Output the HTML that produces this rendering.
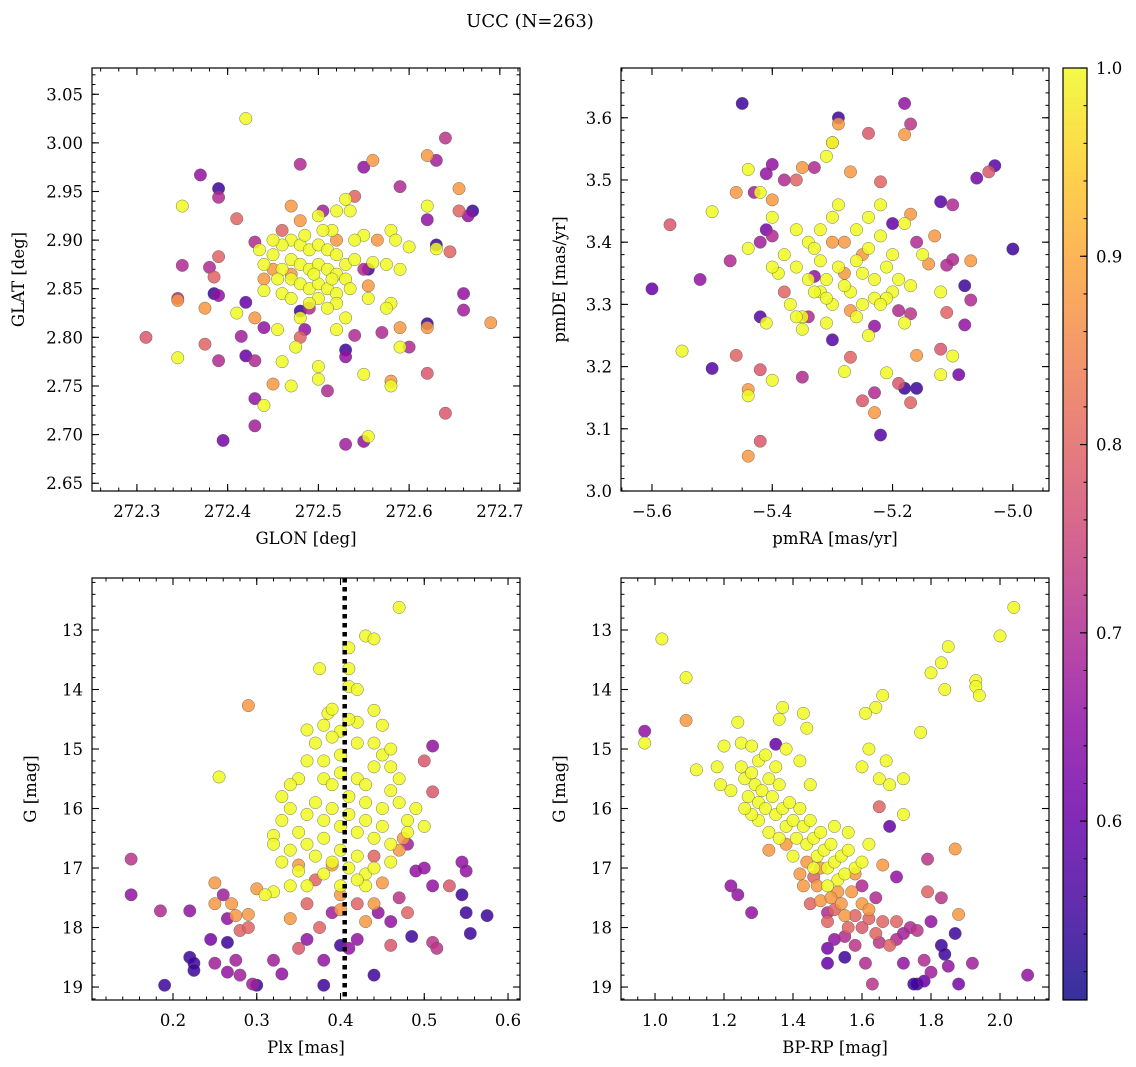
<!DOCTYPE html>
<html><head><meta charset="utf-8"><style>
html,body{margin:0;padding:0;background:#fff;}
svg{display:block;font-family:"DejaVu Serif","Liberation Serif",serif;}
</style></head><body>
<svg id="fig" width="1136" height="1067" viewBox="0 0 1136 1067" xmlns="http://www.w3.org/2000/svg">
<text x="530" y="27" font-size="18" text-anchor="middle">UCC (N=263)</text>
</svg>
<script>
// ---- Panel 1: GLON vs GLAT ----
const p1x=[272.42,272.37,272.39,272.35,272.39,272.48,272.55,272.59,272.54,272.56,272.62,272.64,272.63,272.655,272.655,272.67,272.665,272.62,272.62,272.63,272.63,272.645,272.66,272.66,272.69,272.62,272.62,272.62,272.64,272.6,272.59,272.58,272.58,272.55,272.555,272.55,272.53,272.51,272.5,272.5,272.47,272.45,272.44,272.43,272.43,272.395,272.43,272.42,272.39,272.375,272.345,272.31,272.345,272.345,272.35,272.38,272.385,272.39,272.385,272.39,272.375,272.41,272.42,272.415,272.41,272.43,272.435,272.44,272.44,272.43,272.44,272.46,272.455,272.46,272.475,272.48,272.48,272.485,272.49,272.505,272.52,272.53,272.535,272.515,272.55,272.58,272.585,272.565,272.6,272.56,272.555,272.55,272.575,272.59,272.58,272.575,272.555,272.555,272.53,272.52,272.54,272.53,272.53,272.59,272.57,272.47,272.48,272.46,
272.47,272.48,272.49,272.50,272.51,272.52,272.47,272.48,272.49,272.50,272.51,272.52,272.53,272.54,272.46,272.47,272.48,272.49,272.50,272.51,272.52,272.53,272.45,272.46,272.47,272.50,272.52,272.485,272.505,272.495,272.515,272.535,272.44,272.455,272.54,272.5,272.49,272.48,272.51,272.45,272.47,272.52,272.45];
const p1y=[3.025,2.967,2.953,2.935,2.944,2.978,2.975,2.955,2.945,2.982,2.987,3.005,2.982,2.953,2.930,2.930,2.925,2.921,2.935,2.895,2.891,2.888,2.845,2.828,2.815,2.814,2.810,2.763,2.722,2.79,2.79,2.755,2.75,2.762,2.698,2.693,2.69,2.745,2.77,2.757,2.75,2.752,2.73,2.737,2.709,2.694,2.776,2.781,2.776,2.793,2.779,2.80,2.84,2.838,2.874,2.872,2.862,2.883,2.845,2.843,2.83,2.825,2.836,2.801,2.922,2.898,2.89,2.86,2.848,2.82,2.81,2.845,2.808,2.775,2.79,2.80,2.827,2.808,2.83,2.93,2.93,2.942,2.93,2.91,2.905,2.91,2.9,2.9,2.893,2.877,2.87,2.87,2.875,2.87,2.835,2.83,2.853,2.84,2.82,2.808,2.802,2.787,2.78,2.81,2.805,2.935,2.92,2.91,
2.90,2.895,2.89,2.895,2.89,2.885,2.88,2.875,2.87,2.875,2.87,2.865,2.875,2.88,2.87,2.86,2.855,2.85,2.855,2.85,2.845,2.86,2.885,2.895,2.84,2.84,2.835,2.905,2.91,2.865,2.86,2.85,2.875,2.86,2.9,2.925,2.835,2.82,2.83,2.9,2.865,2.9,2.87];
const p1c=[1,0.66,0.55,1,0.7,0.7,0.66,0.7,0.8,0.88,0.88,0.72,0.68,0.88,0.8,0.55,0.66,0.66,1,0.55,1,0.8,0.66,0.68,0.88,0.55,0.88,0.78,0.78,0.7,1,0.88,1,1,1,0.66,0.68,0.7,1,1,1,0.88,1,0.66,0.68,0.62,0.7,0.6,0.7,0.8,1,0.78,0.7,0.88,0.7,0.7,0.8,0.8,0.55,0.66,0.88,1,0.6,0.68,0.8,0.7,1,0.88,1,0.88,0.66,1,1,1,1,0.8,0.55,0.66,0.7,0.68,1,1,1,1,1,1,1,0.88,1,1,0.55,0.7,1,1,1,1,0.88,1,1,1,0.7,0.55,0.66,0.88,0.7,0.88,0.88,0.8,
1,1,1,1,1,1,1,1,1,1,1,1,1,1,1,1,1,1,1,1,1,1,1,1,1,1,1,1,1,1,1,1,1,1,1,1,1,1,1,1,0.88,0.88,0.88];

// ---- Panel 2: pmRA vs pmDE ----
const p2x=[-5.45,-5.29,-5.18,-5.17,-5.03,-5.04,-5.06,-5.0,-5.07,-5.08,-5.07,-5.08,-5.1,-5.09,-5.12,-5.12,-5.11,-5.12,-5.1,-5.12,-5.1,-5.11,-5.17,-5.18,-5.2,-5.18,-5.27,-5.24,-5.22,-5.3,-5.31,-5.3,-5.29,-5.35,-5.33,-5.36,-5.38,-5.4,-5.41,-5.43,-5.42,-5.44,-5.46,-5.44,-5.41,-5.4,-5.42,-5.4,-5.4,-5.47,-5.5,-5.57,-5.6,-5.52,-5.55,-5.5,-5.46,-5.42,-5.41,-5.42,-5.4,-5.44,-5.44,-5.42,-5.44,-5.35,-5.3,-5.28,-5.27,-5.25,-5.23,-5.22,-5.23,-5.21,-5.19,-5.18,-5.16,-5.17,-5.16,-5.17,-5.18,-5.19,-5.14,-5.13,-5.16,-5.33,-5.34,-5.23,-5.24,
-5.38,-5.36,-5.34,-5.32,-5.3,-5.28,-5.26,-5.24,-5.22,-5.2,-5.37,-5.35,-5.33,-5.31,-5.29,-5.27,-5.25,-5.23,-5.21,-5.19,-5.36,-5.34,-5.32,-5.3,-5.28,-5.26,-5.24,-5.22,-5.2,-5.39,-5.35,-5.31,-5.27,-5.23,-5.33,-5.29,-5.25,-5.21,-5.3,-5.26,-5.17,-5.15,-5.4,-5.38,-5.32,-5.28,-5.25,-5.22,-5.36,-5.31];
const p2y=[3.623,3.6,3.623,3.59,3.523,3.513,3.503,3.389,3.37,3.33,3.307,3.267,3.217,3.187,3.187,3.228,3.287,3.32,3.372,3.465,3.46,3.363,3.445,3.43,3.43,3.573,3.513,3.575,3.497,3.56,3.538,3.56,3.59,3.52,3.52,3.5,3.5,3.525,3.51,3.48,3.48,3.517,3.48,3.39,3.42,3.41,3.4,3.44,3.468,3.37,3.449,3.428,3.325,3.34,3.225,3.197,3.218,3.28,3.27,3.195,3.178,3.163,3.153,3.08,3.056,3.183,3.243,3.192,3.215,3.145,3.158,3.09,3.126,3.19,3.173,3.165,3.165,3.142,3.218,3.285,3.27,3.29,3.365,3.41,3.4,3.345,3.28,3.265,3.25,
3.38,3.36,3.34,3.32,3.3,3.35,3.37,3.39,3.41,3.38,3.3,3.28,3.32,3.34,3.36,3.32,3.3,3.34,3.36,3.34,3.42,3.4,3.42,3.44,3.4,3.42,3.44,3.46,3.32,3.35,3.26,3.27,3.29,3.31,3.39,3.46,3.35,3.31,3.4,3.28,3.33,3.38,3.36,3.32,3.37,3.33,3.38,3.3,3.28,3.31];
const p2c=[0.55,0.55,0.66,0.72,0.58,0.78,0.62,0.55,0.88,0.55,0.7,0.66,1,0.62,1,0.78,0.8,1,0.7,0.58,0.7,0.7,0.88,1,0.6,0.88,0.88,0.78,0.8,0.88,1,1,0.88,0.88,0.7,0.8,0.7,0.66,0.66,0.68,1,1,0.88,1,0.62,0.7,0.68,1,0.88,0.7,1,0.78,0.6,0.66,1,0.58,0.8,0.58,1,0.78,1,0.88,1,0.78,0.88,0.7,0.58,1,0.8,0.78,0.7,0.58,0.88,1,0.78,0.55,0.55,0.8,0.88,0.72,1,0.7,0.88,0.88,0.7,0.66,0.7,0.66,1,
1,1,1,1,1,0.88,1,1,1,1,1,1,1,1,1,1,1,1,1,1,1,1,1,1,0.88,1,1,1,1,1,1,1,0.88,1,1,1,1,1,0.88,1,1,1,1,0.8,1,1,0.88,1,1,1];

// ---- Panel 3: Plx vs G ----
const p3x=[0.47,0.43,0.44,0.41,0.41,0.375,0.41,0.42,0.29,0.255,0.36,0.385,0.39,0.44,0.45,0.42,0.4,0.45,0.46,0.38,0.36,0.33,0.34,0.32,0.32,0.33,0.5,0.51,0.51,0.35,0.34,0.3,0.32,0.31,0.25,0.25,0.27,0.275,0.29,0.28,0.29,0.15,0.15,0.185,0.22,0.26,0.265,0.245,0.25,0.265,0.275,0.28,0.265,0.22,0.225,0.225,0.19,0.295,0.3,0.32,0.33,0.35,0.36,0.375,0.38,0.38,0.39,0.4,0.41,0.42,0.44,0.445,0.46,0.46,0.485,0.48,0.47,0.51,0.51,0.515,0.53,0.545,0.55,0.55,0.555,0.575,0.545,0.5,0.49,0.48,0.47,0.46,0.475,0.44,0.45,0.44,0.43,0.42,0.43,0.36,0.34,0.37,0.4,0.39,0.35,0.4,
0.38,0.39,0.4,0.41,0.42,0.43,0.44,0.37,0.36,0.38,0.39,0.4,0.41,0.42,0.43,0.44,0.45,0.46,0.47,0.48,0.49,0.35,0.36,0.37,0.38,0.39,0.4,0.41,0.42,0.43,0.44,0.42,0.4,0.39,0.37,0.35,0.34,0.46,0.47,0.45,0.33,0.34,0.38,0.4,0.42,0.44,0.36,0.46,0.48,0.5,0.38,0.41,0.43];
const p3y=[12.62,13.1,13.15,13.3,13.65,13.65,13.95,14.0,14.27,15.47,14.68,14.4,14.33,14.35,14.6,14.55,14.7,15.1,15.0,15.2,15.2,15.8,16.0,16.45,16.6,16.9,15.2,14.95,15.72,17.05,17.3,17.35,17.4,17.45,17.25,17.6,17.6,17.8,17.78,18.05,18.0,16.85,17.45,17.72,17.72,17.45,17.85,18.2,18.6,18.25,18.55,18.8,18.75,18.5,18.6,18.72,18.97,18.95,18.97,18.55,18.78,18.35,18.2,18.0,18.55,18.97,17.75,18.3,18.35,18.2,18.8,17.75,17.9,18.3,18.15,17.75,17.5,17.3,18.25,18.35,17.3,16.9,17.05,17.75,18.1,17.8,17.45,17.0,17.05,16.6,16.7,16.6,16.5,16.8,17.25,17.6,17.3,17.6,17.9,17.6,17.85,17.2,17.45,16.95,16.95,17.7,
15.5,15.6,15.4,15.8,15.5,15.9,15.3,15.9,16.1,16.2,16.0,16.3,16.1,16.4,16.2,16.5,16.0,15.7,15.9,16.2,16.0,16.4,16.6,16.8,16.5,16.9,16.7,17.0,16.8,17.1,14.9,14.9,15.1,14.8,14.9,15.5,15.6,15.3,15.5,16.3,16.2,16.7,17.1,17.3,17.2,17.0,17.3,16.9,16.4,16.3,14.6,14.5,15.6];
const p3c=[1,1,1,1,1,1,1,1,0.88,1,1,1,1,1,1,1,1,1,1,1,1,1,1,1,1,1,0.78,0.66,0.78,1,1,0.88,1,1,0.88,0.88,0.88,0.88,0.88,0.8,0.8,0.72,0.66,0.7,0.66,0.68,0.66,0.62,0.68,0.55,0.68,0.68,0.66,0.55,0.55,0.55,0.55,0.68,0.55,0.68,0.66,0.78,0.66,0.8,0.66,0.55,0.68,0.55,0.66,0.66,0.55,0.66,0.66,0.78,0.55,0.8,0.72,0.66,0.72,0.72,0.78,0.66,0.66,0.55,0.55,0.55,0.55,0.66,0.66,0.68,0.88,1,0.88,0.8,0.88,0.88,1,0.8,0.88,0.8,0.88,0.8,0.88,0.88,0.88,0.88,
1,1,1,1,1,1,1,1,1,1,1,1,1,1,1,1,1,1,1,1,1,1,1,1,1,1,1,1,1,1,1,1,1,1,1,1,1,1,1,1,1,1,1,1,1,1,1,1,1,1,1,1,1];

// ---- Panel 4: BP-RP vs G ----
const p4x=[0.97,0.97,1.02,1.09,1.09,1.12,1.18,1.19,1.2,1.24,1.22,1.24,1.28,2.04,2.0,1.85,1.83,1.8,1.84,1.93,1.93,1.94,1.77,1.66,1.64,1.61,1.43,1.44,1.36,1.37,1.35,1.6,1.62,1.67,1.65,1.68,1.72,1.72,1.65,1.68,1.87,2.08,1.92,1.88,1.85,1.87,1.83,1.84,1.83,1.8,1.8,1.78,1.76,1.75,1.78,1.72,1.88,1.79,1.79,1.7,1.64,1.6,1.63,1.5,1.5,1.52,1.55,1.55,1.58,1.61,1.6,1.65,1.68,1.7,1.72,1.74,1.76,1.7,1.66,1.62,1.58,1.55,1.52,1.5,1.48,1.53,1.45,1.43,1.46,1.48,
1.25,1.26,1.27,1.28,1.29,1.3,1.3,1.31,1.32,1.33,1.34,1.35,1.36,1.37,1.38,1.39,1.4,1.41,1.42,1.43,1.44,1.45,1.46,1.47,1.48,1.49,1.5,1.51,1.52,1.53,1.54,1.55,1.56,1.58,1.6,1.62,1.3,1.28,1.33,1.36,1.4,1.25,1.28,1.32,1.35,1.42,1.45,1.38,1.22,1.26,1.46,1.5,1.52,1.56,
1.33,1.38,1.42,1.47,1.51,1.54,1.57,1.6,1.5,1.56,1.62,1.64,1.58,1.66,1.44];
const p4y=[14.7,14.9,13.15,13.8,14.52,15.35,15.3,15.6,14.95,14.55,17.3,17.45,17.75,12.62,13.1,13.28,13.55,13.72,14.0,13.85,13.95,14.1,14.72,14.1,14.3,14.4,14.4,14.65,14.5,14.3,14.92,15.3,15.0,15.2,15.5,15.6,15.5,16.1,15.97,16.3,16.68,18.8,18.6,18.95,18.65,18.1,18.3,18.45,17.5,17.9,18.75,18.9,18.95,18.95,18.55,18.6,17.78,17.4,16.85,17.15,17.5,17.3,18.95,18.6,18.35,18.2,18.5,18.15,18.3,18.6,18.0,18.25,18.3,18.2,18.1,18.0,18.05,17.9,17.9,17.85,17.8,17.8,17.7,17.75,17.55,17.4,17.6,17.3,17.15,17.0,
15.3,15.5,15.8,15.4,15.6,15.9,15.2,15.7,16.0,15.5,15.8,16.1,15.6,16.0,16.3,15.9,16.2,16.5,16.0,16.3,16.6,16.2,16.5,16.8,16.4,16.7,17.0,16.6,16.9,17.2,16.8,17.1,16.7,17.0,16.9,16.6,16.2,16.1,16.4,16.5,16.8,14.9,14.95,15.1,15.3,15.2,15.6,15.0,15.7,16.0,17.0,17.3,16.3,16.4,
16.7,16.6,17.1,17.3,17.5,17.6,17.4,17.6,17.9,18.0,17.7,18.1,17.1,16.95,16.9];
const p4c=[0.66,1,1,1,0.88,1,1,1,1,1,0.66,0.66,0.66,1,1,1,1,1,1,1,1,1,1,1,1,1,1,1,1,1,0.6,1,1,1,1,1,1,1,0.8,0.6,0.88,0.66,0.68,0.62,0.66,0.55,0.55,0.55,0.72,0.66,0.68,0.6,0.55,0.55,0.7,0.66,0.88,0.8,0.72,0.66,0.7,0.7,0.72,0.6,0.62,0.66,0.55,0.7,0.72,0.7,0.78,0.72,0.8,0.7,0.68,0.7,0.72,0.8,0.8,0.8,0.8,0.88,0.8,0.7,0.88,0.88,0.8,0.88,0.8,0.88,
1,1,1,1,1,1,1,1,1,1,1,1,1,1,1,1,1,1,1,1,1,1,1,1,1,1,1,1,1,1,1,1,1,1,1,1,1,1,1,1,1,1,1,1,1,1,1,1,1,1,1,1,1,1,
0.88,0.88,0.88,0.88,0.88,0.88,0.88,0.88,0.8,0.8,0.88,0.8,0.88,0.88,0.88];

const cbTicks=[0.6,0.7,0.8,0.9,1.0];
const vmin=0.505, vmax=1.0;

const NS="http://www.w3.org/2000/svg";
const svg=document.getElementById('fig');
function el(tag,attrs,parent){const e=document.createElementNS(NS,tag);for(const k in attrs)e.setAttribute(k,attrs[k]);(parent||svg).appendChild(e);return e;}
const stops=["#0d0887","#41049d","#6a00a8","#8f0da4","#b12a90","#cc4778","#e16462","#f2844b","#fca636","#fcce25","#f0f921"];
function hex(h){return [parseInt(h.substr(1,2),16),parseInt(h.substr(3,2),16),parseInt(h.substr(5,2),16)];}
function plasma(t){t=Math.max(0,Math.min(1,t));const f=t*10,i=Math.min(9,Math.floor(f)),r=f-i;const a=hex(stops[i]),b=hex(stops[i+1]);return 'rgb('+a.map((v,k)=>Math.round(v+(b[k]-v)*r)).join(',')+')';}
function cmap(v){return plasma((v-vmin)/(vmax-vmin));}
function fmt(v,d){return v.toFixed(d).replace('-','−');}

function panel(name,x0,y0,w,h,xd,yd,inv,xt,yt,xmin,ymin,xdec,ydec,xl,yl,X,Y,C,dotted){
  const g=el('g',{});
  
  
  const sx=v=>x0+(v-xd[0])/(xd[1]-xd[0])*w;
  const sy=v=>inv? y0+(v-yd[0])/(yd[1]-yd[0])*h : y0+h-(v-yd[0])/(yd[1]-yd[0])*h;
  const idx=X.map((_,i)=>i).sort((a,b)=>C[a]-C[b]);
  const pts=el('g',{},g);
  
  
  idx.forEach(i=>{
    const c=el('circle',{cx:sx(X[i]),cy:sy(Y[i]),r:6.2,fill:cmap(C[i]),'fill-opacity':0.85,stroke:'#555','stroke-width':0.4},pts);
    
    
  });
  if(dotted!==undefined){
    const ln=el('line',{x1:sx(dotted),x2:sx(dotted),y1:y0,y2:y0+h,stroke:'#000','stroke-width':4.5,'stroke-dasharray':'4.5,4.5'},g);
    
    
  }
  const fr=el('rect',{x:x0,y:y0,width:w,height:h,fill:'none',stroke:'#000','stroke-width':1.2},g);
  
  
  const lo=Math.min(xd[0],xd[1]),hi=Math.max(xd[0],xd[1]);
  for(let v=Math.ceil(lo/xmin-1e-6)*xmin;v<=hi+1e-9;v+=xmin){const x=sx(v);el('line',{x1:x,x2:x,y1:y0+h,y2:y0+h-3.5,stroke:'#000'},g);el('line',{x1:x,x2:x,y1:y0,y2:y0+3.5,stroke:'#000'},g);}
  const ylo=Math.min(yd[0],yd[1]),yhi=Math.max(yd[0],yd[1]);
  for(let v=Math.ceil(ylo/ymin-1e-6)*ymin;v<=yhi+1e-9;v+=ymin){const y=sy(v);el('line',{x1:x0,x2:x0+3.5,y1:y,y2:y,stroke:'#000'},g);el('line',{x1:x0+w,x2:x0+w-3.5,y1:y,y2:y,stroke:'#000'},g);}
  xt.forEach(v=>{const x=sx(v);el('line',{x1:x,x2:x,y1:y0+h,y2:y0+h-7,stroke:'#000','stroke-width':1.1},g);el('line',{x1:x,x2:x,y1:y0,y2:y0+7,stroke:'#000','stroke-width':1.1},g);
    const t=el('text',{x:x,y:y0+h+26,'font-size':16.5,'text-anchor':'middle'},g);t.textContent=fmt(v,xdec);
    
    });
  yt.forEach(v=>{const y=sy(v);el('line',{x1:x0,x2:x0+7,y1:y,y2:y,stroke:'#000','stroke-width':1.1},g);el('line',{x1:x0+w,x2:x0+w-7,y1:y,y2:y,stroke:'#000','stroke-width':1.1},g);
    const t=el('text',{x:x0-9,y:y+6,'font-size':16.5,'text-anchor':'end'},g);t.textContent=fmt(v,ydec);
    
    });
  const a=el('text',{x:x0+w/2,y:y0+h+53,'font-size':16.5,'text-anchor':'middle'},g);a.textContent=xl;
  
  
  const yx=x0-(ydec==2?68:56);
  const b=el('text',{x:yx,y:y0+h/2,'font-size':16.5,'text-anchor':'middle',transform:'rotate(-90 '+yx+' '+(y0+h/2)+')'},g);b.textContent=yl;
  
  
}
panel('panel-glon-glat',92,68,428,423,[272.2505,272.7222],[2.642,3.077],false,[272.3,272.4,272.5,272.6,272.7],[2.65,2.7,2.75,2.8,2.85,2.9,2.95,3.0,3.05],0.02,0.01,1,2,'GLON [deg]','GLAT [deg]',p1x,p1y,p1c);
panel('panel-pm',621,68,428,423,[-5.6515,-4.9399],[3.0,3.68],false,[-5.6,-5.4,-5.2,-5.0],[3.0,3.1,3.2,3.3,3.4,3.5,3.6],0.05,0.02,1,1,'pmRA [mas/yr]','pmDE [mas/yr]',p2x,p2y,p2c);
panel('panel-plx-g',92,578,428,422,[0.1033,0.6143],[12.126,19.218],true,[0.2,0.3,0.4,0.5,0.6],[13,14,15,16,17,18,19],0.02,0.2,1,0,'Plx [mas]','G [mag]',p3x,p3y,p3c,0.405);
panel('panel-cmd',621,578,428,422,[0.9014,2.1420],[12.126,19.218],true,[1.0,1.2,1.4,1.6,1.8,2.0],[13,14,15,16,17,18,19],0.05,0.2,1,0,'BP-RP [mag]','G [mag]',p4x,p4y,p4c);

// ---- colorbar ----
const cb=el('g',{});


const cx0=1063,cy0=68,cw=24,ch=932;
const cy=v=>cy0+(vmax-v)/(vmax-vmin)*ch;
for(let i=0;i<ch;i++){const v=vmax-(i+0.5)/ch*(vmax-vmin);el('rect',{x:cx0,y:cy0+i,width:cw,height:1.2,fill:cmap(v),'fill-opacity':0.8},cb);}
el('rect',{x:cx0,y:cy0,width:cw,height:ch,fill:'none',stroke:'#000','stroke-width':1.2},cb);
for(let v=0.52;v<=1.0001;v+=0.02){el('line',{x1:cx0+cw,x2:cx0+cw-3.5,y1:cy(v),y2:cy(v),stroke:'#000'},cb);}
cbTicks.forEach(v=>{el('line',{x1:cx0+cw,x2:cx0+cw-7,y1:cy(v),y2:cy(v),stroke:'#000','stroke-width':1.1},cb);
  const t=el('text',{x:cx0+cw+9,y:cy(v)+6,'font-size':16.5},cb);t.textContent=v.toFixed(1);
  
  });
</script>
</body></html>
